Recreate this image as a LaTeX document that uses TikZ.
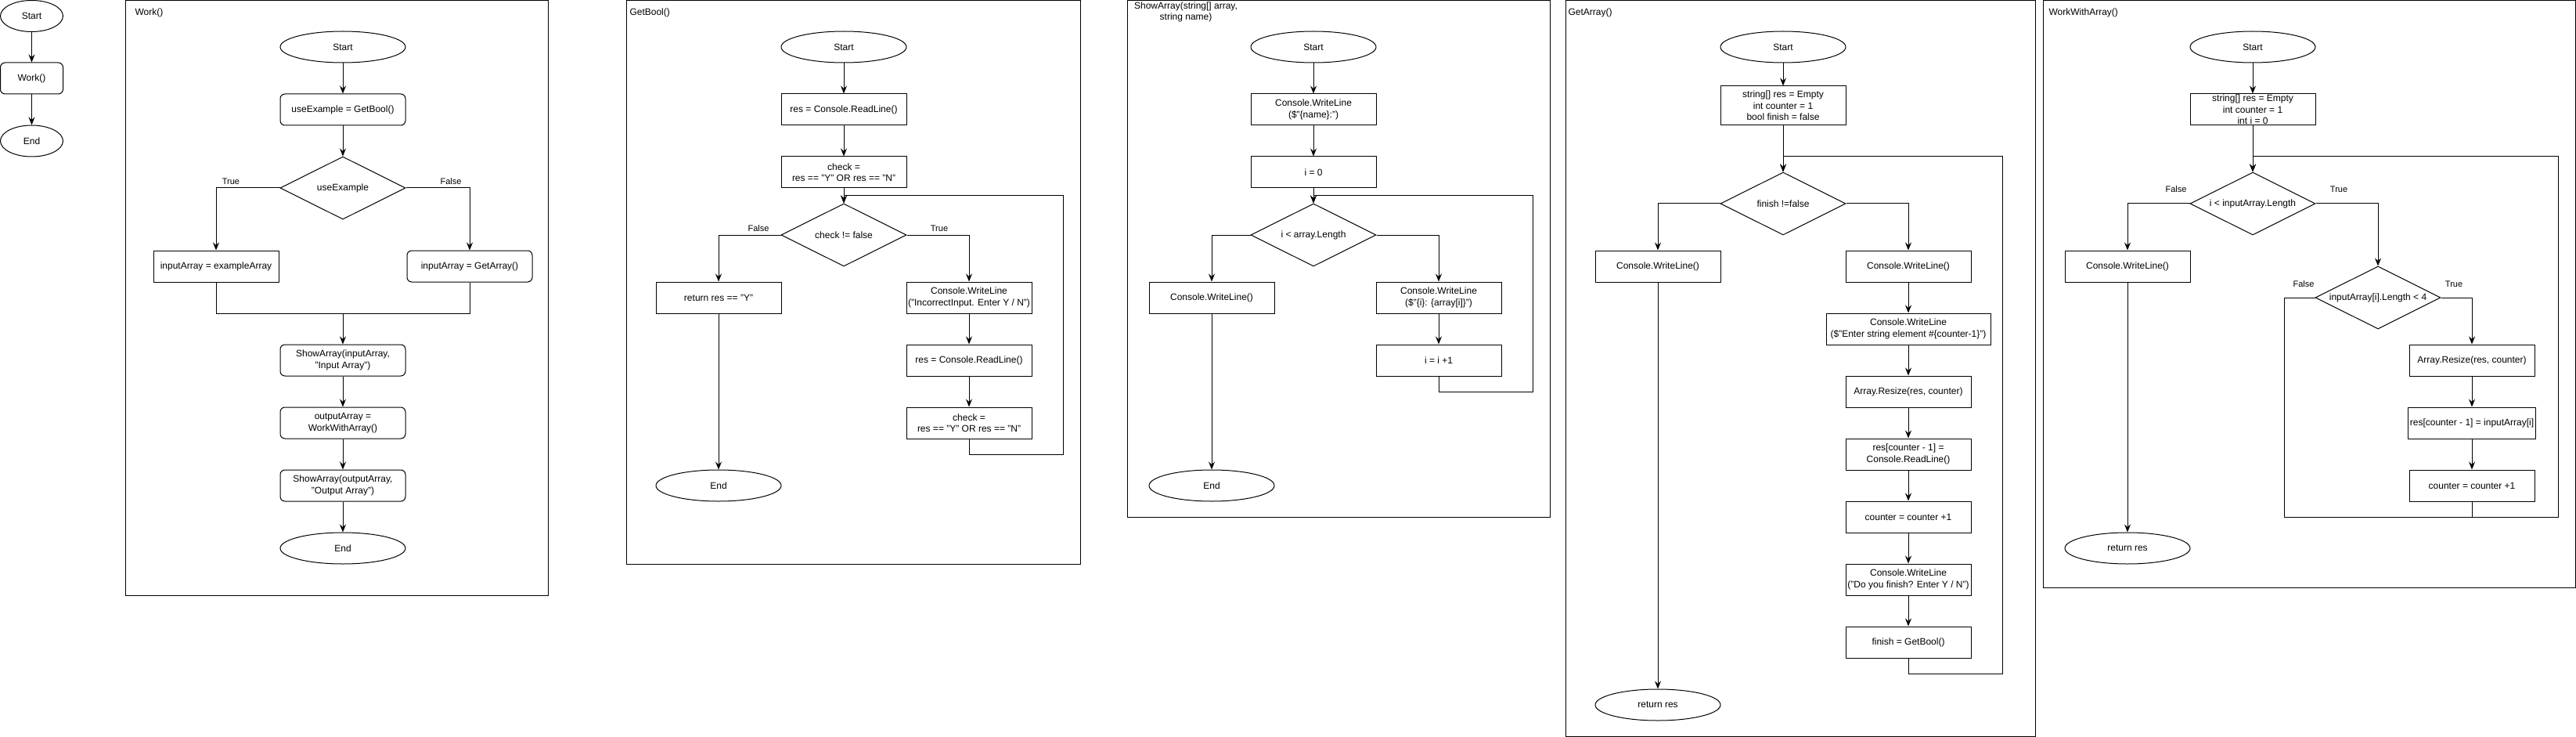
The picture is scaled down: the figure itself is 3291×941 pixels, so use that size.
\documentclass[tikz,border=0pt]{standalone}
\usepackage{fontspec}
\setmainfont{Liberation Sans}
\usetikzlibrary{shapes.geometric,arrows.meta}
\begin{document}
\begin{tikzpicture}[x=1pt,y=-1pt,line width=1pt,
    font=\fontsize{12}{14.4}\selectfont,
    term/.style={ellipse,draw,minimum width=160pt,minimum height=40pt,inner sep=0pt},
    proc/.style={rectangle,draw,minimum width=160pt,minimum height=40pt,
        inner xsep=2pt,inner ysep=0pt,align=center},
    rproc/.style={proc,rounded corners=6pt},
    cond/.style={diamond,draw,minimum width=160pt,minimum height=80pt,inner sep=0pt},
    flow/.style={-{Stealth[length=10pt,width=8pt,inset=3.5pt]}},
    tag/.style={font=\fontsize{11}{13}\selectfont,inner sep=0pt}]
\useasboundingbox (0,0) rectangle (3291,941);
\foreach \X/\Y/\Z in {160/700/760,800/1380/720,1440/1980/660,2000/2600/940,2610/3290/750}
    \draw (\X,0.5) rectangle (\Y,\Z);
% main
\node[term,minimum width=80pt] (M-1) at (40.5,20.5) {Start};
\node[rproc,minimum width=80pt] (M-2) at (40.5,100) {Work()};
\node[term,minimum width=80pt] (M-3) at (40.5,180) {End};
% Work()
\node[anchor=west,inner sep=0pt] (W-0) at (172,16) {Work()};
\node[term] (W-1) at (438,60) {Start};
\node[rproc] (W-2) at (438,140) {useExample = GetBool()};
\node[cond,label=center:useExample] (W-3) at (438,240) {};
\node[proc] (W-4) at (276,340) {inputArray = exampleArray};
\node[rproc] (W-5) at (600,340) {inputArray = GetArray()};
\node[rproc] (W-6) at (438,460) {ShowArray(inputArray,\\"Input Array")};
\node[rproc] (W-7) at (438,540) {outputArray =\\WorkWithArray()};
\node[rproc] (W-8) at (438,620) {ShowArray(outputArray,\\"Output Array")};
\node[term] (W-9) at (438,700) {End};
\node[tag] (W-t) at (295,232) {True};
\node[tag] (W-f) at (576,232) {False};
\coordinate (W-m) at (438,400);
\draw[flow] (W-3.west) -| (W-4.north);
\draw[flow] (W-3.east) -| (W-5.north);
\draw (W-4.south) |- (W-m) (W-5.south) |- (W-m);
% GetBool()
\node[anchor=west,inner sep=0pt] (B-0) at (804,16) {GetBool()};
\node[term] (B-1) at (1078,60) {Start};
\node[proc] (B-2) at (1078,140) {res = Console.ReadLine()};
\node[proc] (B-3) at (1078,220) {check =\\res == "Y" OR res == "N"};
\node[cond,label=center:{check != false}] (B-4) at (1078,300) {};
\node[proc] (B-5) at (918,380) {return res == "Y"};
\node[proc] (B-6) at (1238,380) {Console.WriteLine\\("IncorrectInput. Enter Y / N")};
\node[proc] (B-7) at (1238,460) {res = Console.ReadLine()};
\node[proc] (B-8) at (1238,540) {check =\\res == "Y" OR res == "N"};
\node[term] (B-9) at (918,620) {End};
\node[tag] (B-f) at (969,292) {False};
\node[tag] (B-t) at (1200,292) {True};
\coordinate (B-l1) at (1358,580);
\coordinate (B-l2) at (1358,250);
\draw[flow] (B-4.west) -| (B-5.north);
\draw[flow] (B-4.east) -| (B-6.north);
\draw[flow] (B-8.south) |- (B-l1) -- (B-l2) -- (B-4.north |- B-l2) -- (B-4.north);
% ShowArray()
\node[align=center,anchor=north,inner sep=0pt] (S-0) at (1515,2) {ShowArray(string[] array,\\string name)};
\node[term] (S-1) at (1678,60) {Start};
\node[proc] (S-2) at (1678,140) {Console.WriteLine\\(\$"\{name\}:")};
\node[proc] (S-3) at (1678,220) {i = 0};
\node[cond,label=center:{i < array.Length}] (S-4) at (1678,300) {};
\node[proc] (S-5) at (1548,380) {Console.WriteLine()};
\node[proc] (S-6) at (1838,380) {Console.WriteLine\\(\$"\{i\}: \{array[i]\}")};
\node[proc] (S-7) at (1838,460) {i = i +1};
\node[term] (S-8) at (1548,620) {End};
\coordinate (S-l1) at (1958,500);
\coordinate (S-l2) at (1958,250);
\draw[flow] (S-4.west) -| (S-5.north);
\draw[flow] (S-4.east) -| (S-6.north);
\draw[flow] (S-7.south) |- (S-l1) -- (S-l2) -- (S-4.north |- S-l2) -- (S-4.north);
% GetArray()
\node[anchor=west,inner sep=0pt] (A-0) at (2003,16) {GetArray()};
\node[term] (A-1) at (2278,60) {Start};
\node[proc,minimum height=50pt] (A-2) at (2278,135) {string[] res = Empty\\int counter = 1\\bool finish = false};
\node[cond,label=center:{finish !=false}] (A-3) at (2278,260) {};
\node[proc] (A-4) at (2118,340) {Console.WriteLine()};
\node[proc] (A-5) at (2438,340) {Console.WriteLine()};
\node[proc,minimum width=210pt] (A-6) at (2438,420) {Console.WriteLine\\(\$"Enter string element \#\{counter-1\}")};
\node[proc] (A-7) at (2438,500) {Array.Resize(res, counter)};
\node[proc] (A-8) at (2438,580) {res[counter - 1] =\\Console.ReadLine()};
\node[proc] (A-9) at (2438,660) {counter = counter +1};
\node[proc] (A-10) at (2438,740) {Console.WriteLine\\("Do you finish? Enter Y / N")};
\node[proc] (A-11) at (2438,820) {finish = GetBool()};
\node[term] (A-12) at (2118,900) {return res};
\coordinate (A-l1) at (2558,860);
\coordinate (A-l2) at (2558,200);
\draw[flow] (A-3.west) -| (A-4.north);
\draw[flow] (A-3.east) -| (A-5.north);
\draw[flow] (A-11.south) |- (A-l1) -- (A-l2) -- (A-3.north |- A-l2) -- (A-3.north);
% WorkWithArray()
\node[anchor=west,inner sep=0pt] (R-0) at (2617,16) {WorkWithArray()};
\node[term] (R-1) at (2878,60) {Start};
\node[proc] (R-2) at (2878,140) {string[] res = Empty\\int counter = 1\\int i = 0};
\node[cond,label=center:{i < inputArray.Length}] (R-3) at (2878,260) {};
\node[proc] (R-4) at (2718,340) {Console.WriteLine()};
\node[cond,label=center:{inputArray[i].Length < 4}] (R-5) at (3038,380) {};
\node[proc] (R-6) at (3158,460) {Array.Resize(res, counter)};
\node[proc] (R-7) at (3158,540) {res[counter - 1] = inputArray[i]};
\node[proc] (R-8) at (3158,620) {counter = counter +1};
\node[term] (R-9) at (2718,700) {return res};
\node[tag] (R-f1) at (2780,242) {False};
\node[tag] (R-t1) at (2988,242) {True};
\node[tag] (R-f2) at (2943,363) {False};
\node[tag] (R-t2) at (3135,363) {True};
\coordinate (R-l0) at (2918,660);
\coordinate (R-l1) at (3268,660);
\coordinate (R-l2) at (3268,200);
\draw[flow] (R-3.west) -| (R-4.north);
\draw[flow] (R-3.east) -| (R-5.north);
\draw[flow] (R-5.east) -| (R-6.north);
\draw (R-5.west) -| (R-l0) -- (R-l1);
\draw[flow] (R-8.south) |- (R-l1) -- (R-l2) -- (R-3.north |- R-l2) -- (R-3.north);
\foreach \X/\Y in {M-1/M-2,M-2/M-3,W-1/W-2,W-2/W-3,W-m/W-6,W-6/W-7,W-7/W-8,W-8/W-9,
    B-1/B-2,B-2/B-3,B-3/B-4,B-6/B-7,B-7/B-8,B-5/B-9,
    S-1/S-2,S-2/S-3,S-3/S-4,S-6/S-7,S-5/S-8,
    A-1/A-2,A-2/A-3,A-5/A-6,A-6/A-7,A-7/A-8,A-8/A-9,A-9/A-10,A-10/A-11,A-4/A-12,
    R-1/R-2,R-2/R-3,R-6/R-7,R-7/R-8,R-4/R-9}
    \draw[flow] (\X) -- (\Y);
\end{tikzpicture}
\end{document}
